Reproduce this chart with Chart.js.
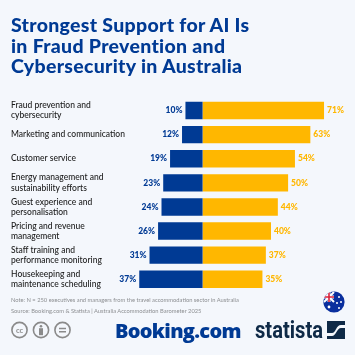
<!DOCTYPE html>
<html>
<head>
<meta charset="utf-8">
<script src="https://cdn.jsdelivr.net/npm/chart.js@4"></script>
<style>
  html, body { margin: 0; padding: 0; background: #f4f7fc; }
  #wrap { position: relative; width: 355px; height: 355px; overflow: hidden; font-family: Lato, sans-serif; }
  #wrap div, #wrap svg, #wrap span { position: absolute; }
  .title { left: 11px; top: 15px; font-weight: 900; font-size: 19.5px; letter-spacing: 0.3px; line-height: 20.5px; color: #003a94; white-space: nowrap; }
  .note { left: 11px; font-size: 5.75px; color: #8d8f92; white-space: nowrap; }
  .swatch { width: 5px; height: 5px; top: 82.5px; }
  .legendText { top: 80px; font-size: 8.6px; font-weight: 500; color: #1a1a1a; white-space: nowrap; }
  .booking { left: 115px; top: 317px; font-family: "Open Sans", sans-serif; font-weight: 800; font-size: 20px; letter-spacing: -0.7px; color: #003a94; }
  .statista { left: 255px; top: 316px; font-family: "Roboto", sans-serif; font-weight: 700; font-size: 24px; color: #0f2a47; transform: scaleX(0.84); transform-origin: left; }
</style>
</head>
<body>
<div id="wrap">
  <canvas id="barChart" width="355" height="355"></canvas>
  <div class="title">Strongest Support for AI Is<br>in Fraud Prevention and<br>Cybersecurity in Australia</div>
  <div id="legend"></div>
  <div class="note" style="top:296px">Note: N = 250 executives and managers from the travel accommodation sector in Australia</div>
  <div class="note" style="top:307px">Source: Booking.com &amp; Statista | Australia Accommodation Barometer 2025</div>
  <svg style="left:10px;top:321px" width="62" height="20" fill="none" stroke="#8a8a8a" stroke-width="1.6">
    <circle cx="9.5" cy="9" r="7.6"/><circle cx="31" cy="9" r="7.6"/><circle cx="52.5" cy="9" r="7.6"/>
    <text x="9.5" y="11.5" font-size="7.5" font-weight="700" font-family="Lato" fill="#8a8a8a" stroke="none" text-anchor="middle">cc</text>
    <circle cx="31" cy="5.2" r="1.3" fill="#8a8a8a" stroke="none"/>
    <rect x="29" y="7.2" width="4" height="7" fill="#8a8a8a" stroke="none"/>
    <path d="M49 7.5h7M49 10.8h7"/>
  </svg>
  <div class="booking">Booking.com</div>
  <div class="statista">statista</div>
  <svg style="left:327px;top:321px" width="18" height="18">
    <rect width="18" height="18" fill="#0f2a47"/>
    <path d="M0 15h5c4 0 5-8 9-8h4V4h-4c-5 0-5 8-9 8H0Z" fill="#f4f7fc"/>
  </svg>
  <svg style="left:322.5px;top:290.5px" width="22" height="22" viewBox="0 0 22 22">
    <defs><clipPath id="c"><circle cx="11" cy="11" r="10.6"/></clipPath></defs>
    <g clip-path="url(#c)">
      <rect width="22" height="22" fill="#0a2f9e"/>
      <path d="M1 1L11 11M11 1L1 11" stroke="#fff" stroke-width="2"/>
      <path d="M6 0V11M0 6H11" stroke="#fff" stroke-width="3"/>
      <path d="M6 0V11M0 6H11" stroke="#d8203a" stroke-width="1.6"/>
      <circle cx="6" cy="16" r="1.4" fill="#fff"/><circle cx="16" cy="6" r="1" fill="#fff"/>
      <circle cx="18" cy="11" r="1" fill="#fff"/><circle cx="14" cy="12" r="1" fill="#fff"/><circle cx="16" cy="17" r="1" fill="#fff"/>
    </g>
  </svg>
</div>
<script>
const categories = [
  ["Fraud prevention and", "cybersecurity"],
  "Marketing and communication",
  "Customer service",
  ["Energy management and", "sustainability efforts"],
  ["Guest experience and", "personalisation"],
  ["Pricing and revenue", "management"],
  ["Staff training and", "performance monitoring"],
  ["Housekeeping and", "maintenance scheduling"]
];
const notHelpful = [10, 12, 19, 23, 24, 26, 31, 37];
const helpful = [71, 63, 54, 50, 44, 40, 37, 35];
const seriesNames = ["AI is not helpful (at all)", "AI is (very) helpful"];

const BLUE = "#003a94";
const GOLD = "#ffb700";

// html legend, the canvas one can't start at x=11 with this gap
const legendX = [[11, 19], [115, 124]];
const legendEl = document.getElementById("legend");
seriesNames.forEach((name, i) => {
  const box = document.createElement("span");
  box.className = "swatch";
  box.style.left = legendX[i][0] + "px";
  box.style.background = i === 0 ? BLUE : GOLD;
  const text = document.createElement("span");
  text.className = "legendText";
  text.style.left = legendX[i][1] + "px";
  text.textContent = name;
  legendEl.appendChild(box);
  legendEl.appendChild(text);
});

// prints the percentages next to the bar ends
const valueLabels = {
  id: "valueLabels",
  afterDatasetsDraw(chart) {
    const ctx = chart.ctx;
    ctx.save();
    ctx.font = "900 8.5px Lato";
    ctx.textBaseline = "middle";
    chart.data.datasets.forEach((ds, i) => {
      chart.getDatasetMeta(i).data.forEach((bar, j) => {
        ctx.fillStyle = ds.backgroundColor;
        ctx.textAlign = i === 0 ? "right" : "left";
        const gap = i === 0 ? -3 : 3;
        ctx.fillText(Math.abs(ds.data[j]) + "%", bar.x + gap, bar.y);
      });
    });
    ctx.restore();
  }
};

new Chart(document.getElementById("barChart"), {
  type: "bar",
  data: {
    labels: categories,
    datasets: [
      { label: seriesNames[0], data: notHelpful.map(v => -v), backgroundColor: BLUE },
      { label: seriesNames[1], data: helpful, backgroundColor: GOLD }
    ]
  },
  options: {
    indexAxis: "y",
    responsive: false,
    animation: false,
    layout: { padding: { left: 11, right: 0, top: 98.5, bottom: 63.7 } },
    datasets: { bar: { categoryPercentage: 1, barPercentage: 0.72 } },
    scales: {
      x: {
        stacked: true,
        min: -38.9,
        max: 89.1,
        display: false
      },
      y: {
        stacked: true,
        afterFit(axis) { axis.width = 125; },
        grid: { display: false },
        border: { display: false },
        ticks: {
          crossAlign: "far",
          padding: 0,
          autoSkip: false,
          color: "#1a1a1a",
          font: { family: "Lato", size: 8.5, weight: "500", lineHeight: 1.2 }
        }
      }
    },
    plugins: {
      tooltip: { enabled: false },
      legend: { display: false }
    }
  },
  plugins: [valueLabels]
});
</script>
</body>
</html>
